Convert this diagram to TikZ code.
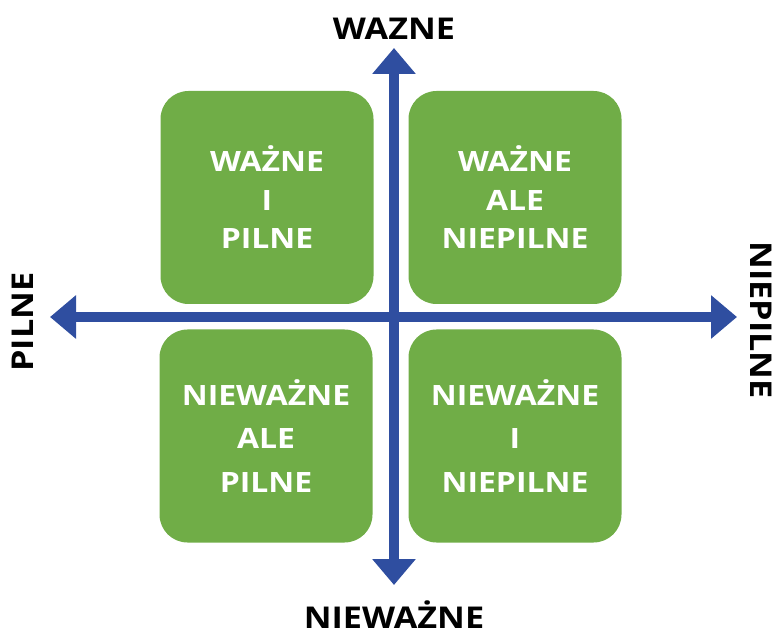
\documentclass[tikz,border=0pt]{standalone}
\usepackage{fontspec}
\setmainfont{Open Sans}
\newfontfamily\widefont{Open Sans}[FakeStretch=1.14]
\usetikzlibrary{arrows.meta}
\definecolor{boxgreen}{RGB}{112,173,71}
\definecolor{axisblue}{RGB}{47,78,160}
\tikzset{
  quad/.style={fill=boxgreen, rounded corners=28pt, minimum width=213pt, minimum height=213pt,
    text=white, font=\widefont\fontsize{28}{38.5}\selectfont\bfseries, align=center, inner sep=0pt},
  quadlow/.style={quad, font=\widefont\fontsize{28}{43.5}\selectfont\bfseries},
  axislabel/.style={text=black, font=\widefont\fontsize{30}{36}\selectfont\bfseries, inner sep=0pt},
  axisline/.style={draw=axisblue, line width=10pt,
    {Triangle[width=42pt,length=26pt]}-{Triangle[width=42pt,length=26pt]}}
}
\begin{document}
\begin{tikzpicture}[x=1pt,y=-1pt]
\useasboundingbox (0,0) rectangle (777,636);
\node[quad] (wp) at (267,197.5) {WAŻNE\\I\\PILNE};
\node[quad] (wn) at (515,197.5) {WAŻNE\\ALE\\NIEPILNE};
\node[quadlow] (np) at (266,436) {NIEWAŻNE\\ALE\\PILNE};
\node[quadlow] (nn) at (515,436) {NIEWAŻNE\\I\\NIEPILNE};
\coordinate (top) at (394,48);
\coordinate (bottom) at (394,585);
\coordinate (left) at (50,317);
\coordinate (right) at (737,317);
\draw[axisline] (bottom) -- (top);
\draw[axisline] (left) -- (right);
\node[axislabel, anchor=base] (lt) at (394,40) {WAZNE};
\node[axislabel, anchor=base] (lb) at (394,628) {NIEWAŻNE};
\node[axislabel, anchor=base, rotate=90] (ll) at (33,322) {PILNE};
\node[axislabel, anchor=base, rotate=-90] (lr) at (750,320) {NIEPILNE};
\end{tikzpicture}
\end{document}
